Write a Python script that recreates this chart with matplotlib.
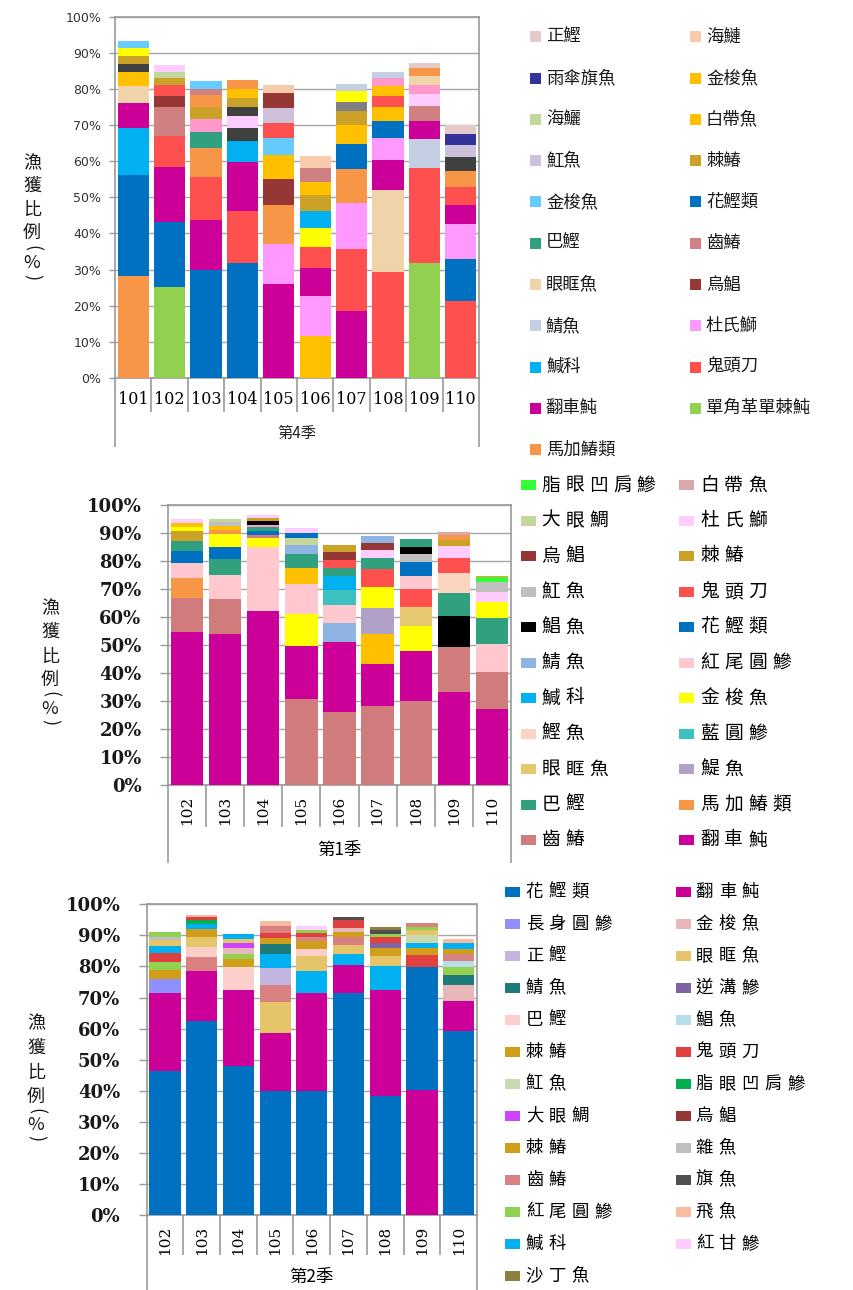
import numpy as np
import matplotlib
matplotlib.use("Agg")
import matplotlib.pyplot as plt
from matplotlib.patches import Rectangle
from matplotlib.transforms import blended_transform_factory

W, H = 854, 1290
CJK = ['Noto Sans CJK TC', 'DejaVu Sans']
plt.rcParams['font.family'] = CJK

# ---------------- 第4季 ----------------
S4_CATS = ["101", "102", "103", "104", "105", "106", "107", "108", "109", "110"]
S4_SPECIES = [
    ["馬加鰆類", "花鰹類", "鰔科", "翻車魨", "眼眶魚", "白帶魚", "旗魚", "棘鰆", "黃鰭", "金梭魚(藍)"],
    ["單角革單棘魨", "花鰹類", "翻車魨", "鬼頭刀", "齒鰆", "烏鯧", "鬼頭刀", "棘鰆", "海鱺", "大眼鯛"],
    ["花鰹類", "翻車魨", "鬼頭刀", "馬加鰆類", "巴鰹", "紅甘鰺", "棘鰆", "馬加鰆類", "齒鰆", "金梭魚(藍)"],
    ["花鰹類", "鬼頭刀", "翻車魨", "鰔科", "旗魚", "大眼鯛", "旗魚", "棘鰆", "白帶魚", "馬加鰆類"],
    ["翻車魨", "杜氏鰤", "馬加鰆類", "烏鯧", "白帶魚", "金梭魚(藍)", "鬼頭刀", "魟魚", "烏鯧", "海鰱"],
    ["白帶魚", "杜氏鰤", "翻車魨", "鬼頭刀", "黃鰭", "鰔科", "棘鰆", "金梭魚", "齒鰆", "海鰱"],
    ["翻車魨", "鬼頭刀", "杜氏鰤", "馬加鰆類", "花鰹類", "白帶魚", "棘鰆", "雜魚", "黃鰭", "鯖魚"],
    ["鬼頭刀", "眼眶魚", "翻車魨", "杜氏鰤", "花鰹類", "白帶魚", "鬼頭刀", "金梭魚", "紅甘鰺", "鯖魚"],
    ["單角革單棘魨", "鬼頭刀", "鯖魚", "翻車魨", "齒鰆", "大眼鯛", "紅甘鰺", "眼眶魚", "馬加鰆類", "正鰹"],
    ["鬼頭刀", "花鰹類", "杜氏鰤", "翻車魨", "鬼頭刀", "馬加鰆類", "旗魚", "魟魚", "雨傘旗魚", "正鰹"],
]
S4_VALUES = [
    [28.3, 28.0, 13.0, 6.9, 4.5, 3.9, 2.4, 2.2, 2.0, 2.0],
    [25.2, 18.0, 15.1, 8.8, 7.9, 3.1, 2.9, 2.0, 1.8, 1.8],
    [29.9, 13.9, 11.9, 8.0, 4.3, 3.7, 3.4, 3.1, 1.9, 2.2],
    [31.7, 14.6, 13.6, 5.7, 3.6, 3.3, 2.6, 2.5, 2.4, 2.4],
    [26.1, 11.1, 10.7, 7.1, 6.6, 4.8, 4.1, 4.2, 4.1, 2.4],
    [11.7, 11.1, 7.7, 5.8, 5.2, 4.8, 4.4, 3.5, 3.8, 3.5],
    [18.6, 17.2, 12.6, 9.5, 6.8, 5.4, 3.7, 2.7, 2.8, 2.1],
    [29.4, 22.7, 8.1, 6.2, 4.7, 3.8, 3.2, 2.7, 2.2, 1.8],
    [31.8, 26.2, 8.1, 4.9, 4.4, 3.3, 2.5, 2.5, 2.2, 1.4],
    [21.3, 11.6, 9.6, 5.3, 5.0, 4.5, 4.0, 3.2, 3.0, 2.5],
]
S4_LEGEND = ["正鰹", "海鰱", "雨傘旗魚", "金梭魚", "海鱺", "白帶魚", "魟魚", "棘鰆",
             "金梭魚(藍)", "花鰹類", "巴鰹", "齒鰆", "眼眶魚", "烏鯧", "鯖魚", "杜氏鰤",
             "鰔科", "鬼頭刀", "翻車魨", "單角革單棘魨", "馬加鰆類"]
S4_COLORS = {
    "正鰹": "#E6C9C9", "海鰱": "#F8CBAD", "雨傘旗魚": "#333399", "金梭魚": "#FFC000",
    "海鱺": "#C3D69B", "白帶魚": "#FFC000", "魟魚": "#CCC0DA", "棘鰆": "#C9A227",
    "金梭魚(藍)": "#66CCFF", "花鰹類": "#0070C0", "巴鰹": "#31A07F", "齒鰆": "#D08080",
    "眼眶魚": "#F0D3A8", "烏鯧": "#953735", "鯖魚": "#C5CFE3", "杜氏鰤": "#FF99FF",
    "鰔科": "#00B0F0", "鬼頭刀": "#FF5050", "翻車魨": "#CC0099", "單角革單棘魨": "#92D050",
    "馬加鰆類": "#F79646",
    "旗魚": "#404040", "黃鰭": "#FFFF00", "紅甘鰺": "#FF99CC", "大眼鯛": "#FFCCFF", "雜魚": "#808080",
}

# ---------------- 第1季 ----------------
S1_CATS = ["102", "103", "104", "105", "106", "107", "108", "109", "110"]
S1_SPECIES = [
    ["翻車魨", "齒鰆", "馬加鰆類", "紅尾圓鰺", "花鰹類", "巴鰹", "棘鰆", "金梭魚", "金梭魚(橙)", "杜氏鰤"],
    ["翻車魨", "齒鰆", "紅尾圓鰺", "巴鰹", "花鰹類", "金梭魚", "馬加鰆類", "金梭魚(橙)", "魟魚", "大眼鯛"],
    ["翻車魨", "紅尾圓鰺", "金梭魚", "齒鰆", "花鰹類", "巴鰹", "紅甘鰺", "鯧魚", "棘鰆", "杜氏鰤"],
    ["齒鰆", "翻車魨", "金梭魚", "紅尾圓鰺", "金梭魚(橙)", "巴鰹", "鯖魚", "大眼鯛", "花鰹類", "杜氏鰤"],
    ["齒鰆", "翻車魨", "鯖魚", "紅尾圓鰺", "藍圓鰺", "鰔科", "巴鰹", "鬼頭刀", "烏鯧", "棘鰆"],
    ["齒鰆", "翻車魨", "金梭魚(橙)", "鯷魚", "金梭魚", "鬼頭刀", "巴鰹", "杜氏鰤", "烏鯧", "鯖魚"],
    ["齒鰆", "翻車魨", "金梭魚", "眼眶魚", "鬼頭刀", "紅尾圓鰺", "花鰹類", "魟魚", "鯧魚", "巴鰹"],
    ["翻車魨", "齒鰆", "鯧魚", "巴鰹", "鰹魚", "鬼頭刀", "杜氏鰤", "棘鰆", "馬加鰆類", "白帶魚"],
    ["翻車魨", "齒鰆", "紅尾圓鰺", "巴鰹", "金梭魚", "杜氏鰤", "魟魚", "脂眼凹肩鰺", "馬加鰆類"],
]
S1_VALUES = [
    [54.6, 12.3, 7.1, 5.4, 4.1, 3.8, 3.3, 1.7, 1.1, 1.6],
    [54.0, 12.4, 8.6, 5.6, 4.5, 4.4, 1.6, 1.3, 1.4, 1.1],
    [62.0, 22.9, 3.2, 1.2, 1.5, 1.3, 0.9, 1.3, 0.9, 1.1],
    [30.7, 18.9, 11.6, 10.5, 5.9, 4.9, 3.2, 2.4, 2.0, 1.8],
    [26.1, 25.1, 6.7, 6.3, 5.4, 5.0, 2.9, 2.9, 2.8, 2.5],
    [28.1, 15.2, 10.7, 9.2, 7.6, 6.3, 3.9, 2.9, 2.6, 2.5],
    [29.9, 18.0, 8.9, 6.9, 6.3, 4.8, 4.7, 3.0, 2.6, 2.8],
    [33.1, 16.3, 11.1, 8.1, 7.2, 5.2, 4.4, 2.1, 1.7, 1.3],
    [27.0, 13.3, 10.0, 9.5, 5.7, 3.5, 3.6, 1.8, 0.4],
]
S1_LEGEND = ["脂眼凹肩鰺", "白帶魚", "大眼鯛", "杜氏鰤", "烏鯧", "棘鰆", "魟魚", "鬼頭刀",
             "鯧魚", "花鰹類", "鯖魚", "紅尾圓鰺", "鰔科", "金梭魚", "鰹魚", "藍圓鰺",
             "眼眶魚", "鯷魚", "巴鰹", "馬加鰆類", "齒鰆", "翻車魨"]
S1_COLORS = {
    "脂眼凹肩鰺": "#33FF33", "白帶魚": "#D9A9A9", "大眼鯛": "#C3D69B", "杜氏鰤": "#FFCCFF",
    "烏鯧": "#953735", "棘鰆": "#C9A227", "魟魚": "#BFBFBF", "鬼頭刀": "#FF5050",
    "鯧魚": "#000000", "花鰹類": "#0070C0", "鯖魚": "#8DB4E2", "紅尾圓鰺": "#FFC7CE",
    "鰔科": "#00B0F0", "金梭魚": "#FFFF00", "鰹魚": "#FCD5C0", "藍圓鰺": "#3CC0C0",
    "眼眶魚": "#E6C86E", "鯷魚": "#B1A0C7", "巴鰹": "#31A07F", "馬加鰆類": "#F79646",
    "齒鰆": "#D07C7C", "翻車魨": "#CC0099",
    "金梭魚(橙)": "#FFC000", "紅甘鰺": "#FF99CC",
}

# ---------------- 第2季 ----------------
S2_CATS = ["102", "103", "104", "105", "106", "107", "108", "109", "110"]
S2_SPECIES = [
    ["花鰹類", "翻車魨", "長身圓鰺", "棘鰆", "紅尾圓鰺", "鬼頭刀", "鰔科", "眼眶魚", "雜魚", "紅尾圓鰺"],
    ["花鰹類", "翻車魨", "齒鰆", "巴鰹", "眼眶魚", "棘鰆", "鰔科", "脂眼凹肩鰺", "鬼頭刀", "飛魚"],
    ["花鰹類", "翻車魨", "巴鰹", "棘鰆", "紅尾圓鰺", "金梭魚", "大眼鯛", "眼眶魚", "鰔科"],
    ["花鰹類", "翻車魨", "眼眶魚", "齒鰆", "正鰹", "鰔科", "鯖魚", "棘鰆", "鬼頭刀", "齒鰆", "飛魚"],
    ["花鰹類", "翻車魨", "鰔科", "眼眶魚", "巴鰹", "棘鰆", "齒鰆", "鬼頭刀", "紅尾圓鰺", "紅甘鰺"],
    ["花鰹類", "翻車魨", "鰔科", "眼眶魚", "齒鰆", "棘鰆", "金梭魚", "鬼頭刀", "旗魚"],
    ["花鰹類", "翻車魨", "鰔科", "眼眶魚", "棘鰆", "逆溝鰺", "鬼頭刀", "紅尾圓鰺", "旗魚", "沙丁魚"],
    ["翻車魨", "花鰹類", "鬼頭刀", "棘鰆", "鰔科", "魟魚", "眼眶魚", "紅尾圓鰺", "齒鰆"],
    ["花鰹類", "翻車魨", "金梭魚", "鯖魚", "紅尾圓鰺", "鯧魚", "齒鰆", "棘鰆", "鰔科", "飛魚"],
]
S2_VALUES = [
    [46.2, 25.3, 4.5, 3.0, 2.5, 2.7, 2.4, 1.8, 1.2, 1.5],
    [62.3, 16.2, 4.4, 3.3, 3.2, 2.6, 1.8, 1.2, 0.9, 0.6],
    [47.8, 24.7, 7.4, 2.4, 1.8, 1.7, 1.7, 1.3, 1.8],
    [39.8, 18.7, 10.0, 5.6, 5.5, 4.3, 3.2, 1.9, 1.9, 2.0, 1.6],
    [39.8, 31.6, 7.2, 4.6, 2.5, 2.5, 1.4, 1.1, 1.1, 1.3],
    [71.3, 9.2, 3.6, 2.8, 2.5, 1.8, 1.3, 2.3, 1.2],
    [38.3, 34.2, 7.7, 3.0, 2.6, 1.8, 1.9, 1.0, 1.2, 1.0],
    [40.1, 39.8, 3.9, 2.0, 1.8, 2.6, 1.4, 1.2, 1.1],
    [59.3, 9.7, 5.0, 3.2, 2.7, 1.8, 2.3, 1.7, 1.7, 1.5],
]
S2_LEGEND = ["花鰹類", "翻車魨", "長身圓鰺", "金梭魚", "正鰹", "眼眶魚", "鯖魚", "逆溝鰺",
             "巴鰹", "鯧魚", "棘鰆", "鬼頭刀", "魟魚", "脂眼凹肩鰺", "大眼鯛", "烏鯧",
             "棘鰆(2)", "雜魚", "齒鰆", "旗魚", "紅尾圓鰺", "飛魚", "鰔科", "紅甘鰺", "沙丁魚"]
S2_COLORS = {
    "花鰹類": "#0070C0", "翻車魨": "#CC0099", "長身圓鰺": "#8F8FFF", "金梭魚": "#E6B9B8",
    "正鰹": "#C3B4E0", "眼眶魚": "#E6C46A", "鯖魚": "#1F7A7A", "逆溝鰺": "#8064A2",
    "巴鰹": "#FCCFCB", "鯧魚": "#B7DEE8", "棘鰆": "#D09E1A", "鬼頭刀": "#E04040",
    "魟魚": "#C9D9B0", "脂眼凹肩鰺": "#00B050", "大眼鯛": "#CC44FF", "烏鯧": "#943634",
    "棘鰆(2)": "#D09E1A", "雜魚": "#BFBFBF", "齒鰆": "#D98080", "旗魚": "#505050",
    "紅尾圓鰺": "#92D050", "飛魚": "#F8BCA0", "鰔科": "#00B0F0", "紅甘鰺": "#FFCCFF",
    "沙丁魚": "#8B8040",
}

LINE = '#9a9a9a'


def fx(x):
    return x / W


def fy(y):
    return 1 - y / H


def stacked_panel(fig, box, cats, species, values, colors, bar_w, tick_kw, tick_len, tick_pad):
    left, top, right, bottom = box
    ax = fig.add_axes([fx(left), fy(bottom), (right - left) / W, (bottom - top) / H])
    xs = np.arange(len(cats))
    for i in range(len(cats)):
        base = 0.0
        for sp, v in zip(species[i], values[i]):
            ax.bar(xs[i], v, bottom=base, width=bar_w, color=colors[sp], linewidth=0, zorder=3)
            base += v
    ax.set_xlim(-0.5, len(cats) - 0.5)
    ax.set_ylim(0, 100)
    ax.set_yticks(np.arange(0, 101, 10))
    ax.set_yticklabels([f"{v}%" for v in range(0, 101, 10)], **tick_kw)
    ax.tick_params(axis='y', length=tick_len, width=1, color=LINE, pad=tick_pad)
    ax.set_xticks([])
    ax.grid(axis='y', color='#a6a6a6', lw=1, zorder=0)
    for s in ax.spines.values():
        s.set_color(LINE)
        s.set_linewidth(1.2)
    return ax


def category_box(ax, cats, group, h_px, sep_px, outer_px, lab_px, grp_px, lab_kw, grp_kw):
    tr = blended_transform_factory(ax.transData, ax.transAxes)
    n = len(cats)
    for k in range(n + 1):
        depth = outer_px if k in (0, n) else sep_px
        ax.plot([k - 0.5, k - 0.5], [0, -depth / h_px], transform=tr, color=LINE,
                lw=1.2, clip_on=False, solid_capstyle='butt')
    for i, c in enumerate(cats):
        ax.text(i, -lab_px / h_px, c, transform=tr, ha='center', va='center', **lab_kw)
    ax.text((n - 1) / 2, -grp_px / h_px, group, transform=tr, ha='center', va='center', **grp_kw)


def ylabel_stack(fig, x, ys, size, color='#1a1a1a'):
    chars = ["漁", "獲", "比", "例", "(", "%", ")"]
    for ch, y in zip(chars, ys):
        rot = -90 if ch in "()" else 0
        fig.text(fx(x), fy(y), ch, ha='center', va='center', fontsize=size,
                 rotation=rot, color=color, family=CJK)


def legend_grid(fig, keys, colors, mark_x, text_x, y0, dy, mw, mh, size, adv, color, weight='normal'):
    for k, key in enumerate(keys):
        r, c = divmod(k, 2)
        y = y0 + r * dy
        fig.patches.append(Rectangle((fx(mark_x[c]), fy(y + mh / 2)), mw / W, mh / H,
                                     transform=fig.transFigure, facecolor=colors[key],
                                     edgecolor='none', figure=fig))
        label = key.split("(")[0]
        if adv is None:
            fig.text(fx(text_x[c]), fy(y), label, ha='left', va='center',
                     fontsize=size, color=color, family=CJK, fontweight=weight)
        else:
            for j, ch in enumerate(label):
                fig.text(fx(text_x[c] + j * adv + adv / 2 - 2), fy(y), ch, ha='center',
                         va='center', fontsize=size, color=color, family=CJK, fontweight=weight)


fig = plt.figure(figsize=(W / 100, H / 100), dpi=100)

# 第4季 (top)
ax4 = stacked_panel(fig, (115, 16.7, 479, 378), S4_CATS, S4_SPECIES, S4_VALUES, S4_COLORS, 0.86,
                    dict(fontsize=9, color='#333333', family='DejaVu Sans'), 4, 6)
category_box(ax4, S4_CATS, "第4季", 361.3, 34, 69, 22, 55,
             dict(fontsize=11.5, family='DejaVu Serif', color='black'),
             dict(fontsize=11, family=CJK, color='#222222'))
ylabel_stack(fig, 32, [163, 186, 210, 233, 248, 263, 277], 13)
legend_grid(fig, S4_LEGEND, S4_COLORS, (530, 690), (546, 706), 36.7, 41.3, 11, 11, 12.5, None, '#1a1a1a')

# 第1季 (middle)
ax1 = stacked_panel(fig, (168, 505, 511, 785), S1_CATS, S1_SPECIES, S1_VALUES, S1_COLORS, 0.85,
                    dict(fontsize=13, color='#1a1a1a', family='DejaVu Serif', fontweight='bold'), 6, 13)
category_box(ax1, S1_CATS, "第1季", 280, 42, 78, 25, 65,
             dict(fontsize=11, family='DejaVu Serif', color='black', rotation=90),
             dict(fontsize=12.5, family=CJK, color='black'))
ylabel_stack(fig, 50, [608, 632, 657, 680, 694, 709, 722], 13)
legend_grid(fig, S1_LEGEND, S1_COLORS, (521, 679), (541, 700), 485, 35.5, 15, 10, 13.5, 23.8, 'black', 'medium')

# 第2季 (bottom)
ax2 = stacked_panel(fig, (146.7, 904.3, 477, 1215), S2_CATS, S2_SPECIES, S2_VALUES, S2_COLORS, 0.85,
                    dict(fontsize=13, color='#1a1a1a', family='DejaVu Serif', fontweight='bold'), 6, 13)
category_box(ax2, S2_CATS, "第2季", 310.7, 40, 80, 25, 62,
             dict(fontsize=11, family='DejaVu Serif', color='black', rotation=90),
             dict(fontsize=12.5, family=CJK, color='black'))
ylabel_stack(fig, 36, [1023, 1048, 1073, 1097, 1111, 1125, 1138], 13)
legend_grid(fig, S2_LEGEND, S2_COLORS, (505, 676), (525, 695), 891.7, 32.0, 15, 10, 12.5, 22.9, 'black', 'medium')

fig.savefig("out.png", dpi=100)
